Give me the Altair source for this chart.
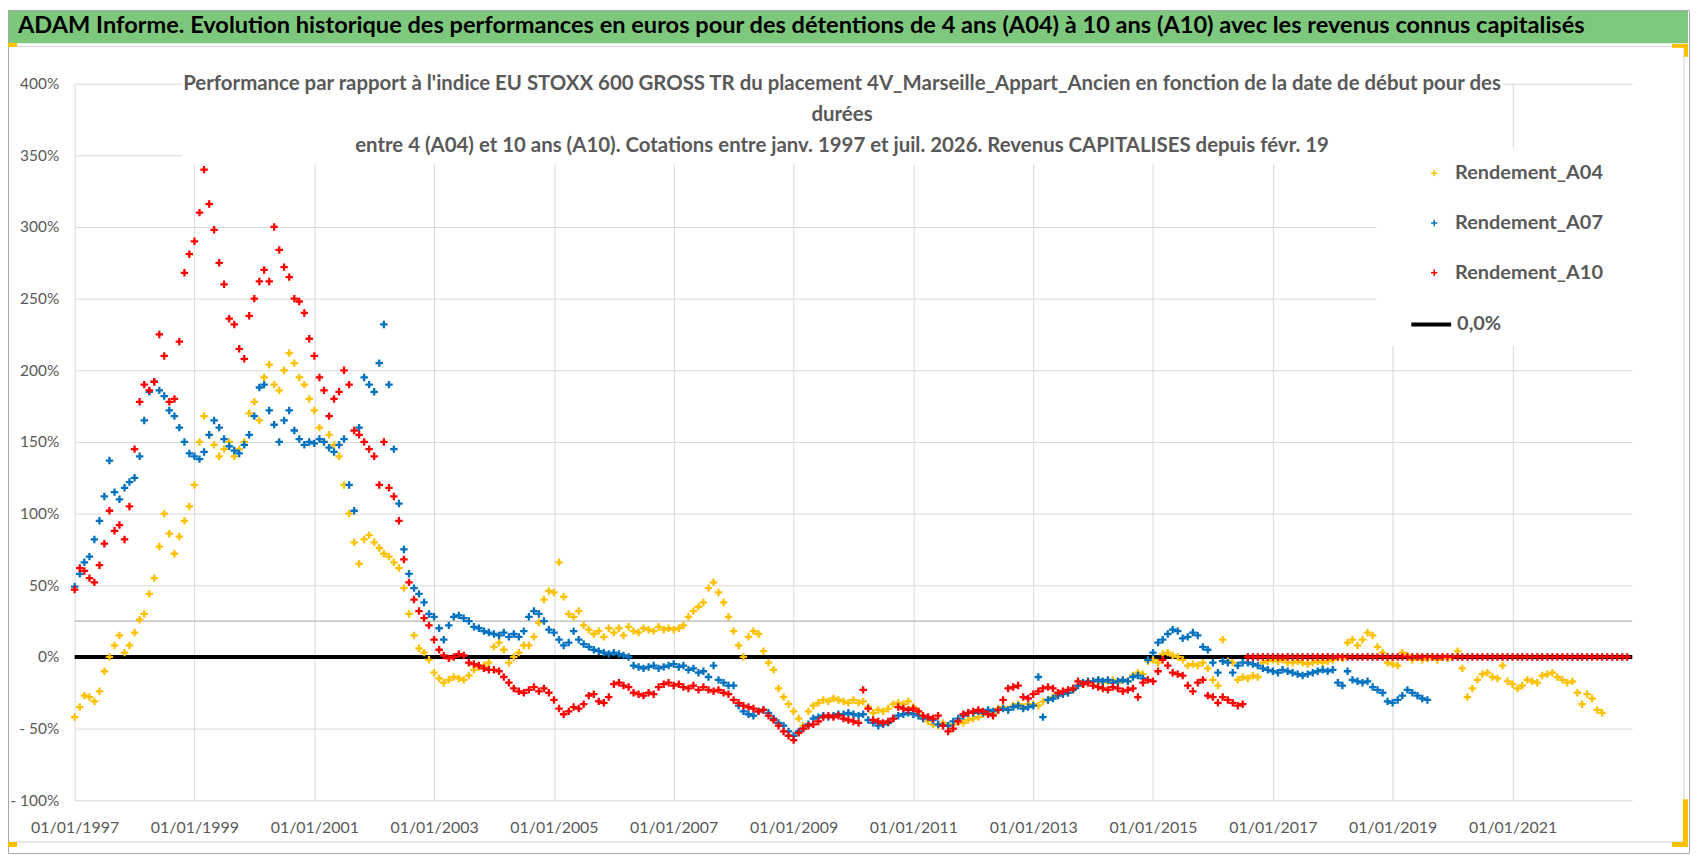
import altair as alt
import pandas as pd

FONT = "Lato, Carlito, sans-serif"
GREY_TXT = "#595959"

BANNER = ("ADAM Informe. Evolution historique des performances en euros pour des détentions "
          "de 4 ans (A04) à 10 ans (A10) avec les revenus connus capitalisés")
TITLE_LINES = [
    "Performance par rapport à l'indice EU STOXX 600 GROSS TR  du placement 4V_Marseille_Appart_Ancien en fonction de la date de début pour des",
    "durées",
    "entre 4 (A04) et 10 ans (A10). Cotations entre janv. 1997 et juil. 2026. Revenus CAPITALISES depuis févr. 19",
]

SERIES = ["Rendement_A04", "Rendement_A07", "Rendement_A10"]
COLORS = ["#FFC000", "#0070C0", "#FF0000"]
ZERO_LABEL = "0,0%"
Y_TICKS = [-100, -50, 0, 50, 100, 150, 200, 250, 300, 350, 400]
X_TICK_YEARS = [1997, 1999, 2001, 2003, 2005, 2007, 2009, 2011, 2013, 2015, 2017, 2019, 2021]
REF_LINE = [25]

# monthly values (%), one row per year, starting January 1997
A04 = [
    [-42, -35, -27, -28, -31, -24, -10, 0, 8, 15, 3, 8],
    [17, 26, 30, 44, 55, 77, 100, 86, 72, 84, 95, 105],
    [120, 150, 168, 155, 148, 140, 145, 150, 140, 145, 150, 170],
    [178, 165, 195, 204, 190, 186, 200, 212, 205, 195, 190, 180],
    [172, 160, 150, 155, 148, 140, 120, 100, 80, 65, 82, 85],
    [80, 76, 72, 70, 66, 62, 48, 30, 15, 6, 3, -2],
    [-11, -15, -18, -16, -14, -15, -16, -13, -9, -7, -6, -4],
    [7, 10, 5, -4, 0, 3, 8, 8, 14, 24, 40, 46],
    [45, 66, 42, 30, 28, 32, 22, 19, 16, 18, 14, 20],
    [17, 20, 15, 21, 18, 17, 20, 19, 18, 21, 19, 20],
    [19, 20, 22, 28, 32, 35, 38, 48, 52, 45, 38, 28],
    [18, 8, 0, 14, 18, 16, 4, -4, -9, -22, -28, -33],
    [-38, -43, -48, -38, -34, -32, -30, -31, -29, -30, -31, -32],
    [-30, -32, -31, -35, -39, -37, -38, -36, -33, -32, -33, -31],
    [-35, -38, -43, -45, -47, -48, -46, -48, -47, -45, -46, -44],
    [-43, -42, -40, -38, -40, -36, -35, -37, -34, -33, -35, -33],
    [-33, -34, -31, -30, -28, -26, -24, -25, -22, -20, -19, -18],
    [-17, -16, -18, -17, -16, -18, -16, -17, -13, -11, -12, -3],
    [-2, -4, 2, 3, 1, 0, -2, -6, -5, -6, -4, -8],
    [-16, -20, 12, -3, -4, -16, -14, -15, -13, -14, -4, -3],
    [-2, -3, -2, -4, -4, -3, -4, -5, -4, -3, -4, -3],
    [-2, 0, -1, 10, 12, 8, 12, 17, 15, 7, 3, -4],
    [-5, -6, 3, 1, -2, 0, -2, -1, 0, -2, 0, -1],
    [0, 4, -8, -28, -22, -16, -12, -11, -14, -15, -6, -17],
    [-19, -22, -20, -16, -17, -18, -13, -12, -11, -14, -16, -18],
    [-17, -25, -33, -26, -29, -37, -39],
]
A07 = [
    [49, 58, 66, 70, 82, 95, 112, 137, 115, 110, 118, 122],
    [125, 140, 165, 185, 192, 186, 182, 172, 168, 160, 150, 142],
    [140, 138, 143, 155, 165, 160, 152, 147, 144, 142, 148, 155],
    [168, 188, 190, 172, 162, 150, 165, 172, 158, 152, 148, 150],
    [149, 152, 150, 146, 143, 148, 152, 120, 102, 160, 195, 190],
    [185, 205, 232, 190, 145, 107, 75, 58, 48, 44, 38, 30],
    [28, 20, 12, 22, 28, 29, 27, 25, 21, 20, 18, 17],
    [16, 15, 17, 14, 16, 14, 18, 28, 32, 30, 25, 19],
    [17, 12, 8, 10, 18, 12, 9, 7, 5, 4, 3, 2],
    [3, 2, 1, 0, -6, -7, -8, -7, -6, -8, -7, -6],
    [-5, -7, -6, -9, -8, -11, -10, -14, -6, -16, -18, -20],
    [-20, -34, -38, -40, -41, -38, -37, -39, -43, -46, -48, -52],
    [-55, -52, -50, -47, -43, -42, -41, -42, -41, -40, -40, -39],
    [-40, -41, -40, -44, -46, -48, -47, -46, -43, -41, -40, -39],
    [-40, -41, -43, -42, -44, -47, -48, -48, -45, -43, -41, -39],
    [-39, -38, -39, -37, -38, -37, -36, -37, -35, -34, -36, -35],
    [-34, -14, -42, -30, -29, -27, -26, -25, -23, -20, -18, -17],
    [-17, -16, -17, -16, -18, -17, -16, -17, -14, -13, -15, -2],
    [3, 10, 12, 16, 19, 18, 13, 14, 17, 15, 7, 5],
    [-4, -11, -3, -4, -11, -6, -4, -4, -5, -6, -8, -9],
    [-10, -11, -9, -10, -11, -12, -13, -12, -11, -10, -9, -10],
    [-9, -18, -20, -10, -16, -17, -18, -17, -21, -23, -25, -31],
    [-32, -30, -27, -23, -25, -27, -29, -30],
]
A10 = [
    [47, 62, 60, 55, 52, 64, 79, 102, 88, 92, 82, 105],
    [145, 178, 190, 186, 192, 225, 210, 178, 180, 220, 268, 281],
    [290, 310, 340, 316, 298, 275, 260, 236, 232, 215, 208, 238],
    [250, 262, 270, 262, 300, 284, 272, 265, 250, 248, 240, 222],
    [210, 195, 186, 168, 180, 185, 200, 190, 158, 155, 150, 145],
    [140, 120, 150, 118, 112, 95, 68, 52, 40, 32, 27, 22],
    [12, 5, 1, -1, 0, 2, 1, -4, -5, -6, -8, -9],
    [-9, -10, -14, -18, -22, -24, -25, -23, -21, -24, -22, -25],
    [-30, -36, -40, -38, -35, -36, -33, -27, -26, -31, -32, -28],
    [-19, -18, -20, -21, -25, -26, -27, -25, -26, -21, -19, -18],
    [-20, -19, -21, -22, -20, -23, -21, -23, -24, -23, -25, -26],
    [-30, -32, -34, -35, -36, -38, -37, -41, -44, -48, -52, -55],
    [-58, -53, -50, -48, -47, -45, -42, -41, -42, -41, -43, -44],
    [-45, -46, -23, -36, -44, -45, -46, -45, -43, -35, -36, -37],
    [-36, -38, -41, -42, -43, -41, -48, -52, -50, -45, -40, -39],
    [-38, -37, -38, -40, -41, -37, -30, -22, -21, -20, -28, -29],
    [-26, -24, -22, -21, -22, -25, -24, -23, -22, -17, -19, -18],
    [-20, -21, -22, -23, -21, -22, -24, -23, -22, -28, -18, -16],
    [-17, -10, -2, -6, -11, -12, -13, -20, -24, -18, -16, -27],
    [-28, -32, -28, -30, -32, -34, -33, 0, 0, 0, 0, 0],
    [0, 0, 0, 0, 0, 0, 0, 0, 0, 0, 0, 0],
    [0, 0, 0, 0, 0, 0, 0, 0, 0, 0, 0, 0],
    [0, 0, 0, 0, 0, 0, 0, 0, 0, 0, 0, 0],
    [0, 0, 0, 0, 0, 0, 0, 0, 0, 0, 0, 0],
    [0, 0, 0, 0, 0, 0, 0, 0, 0, 0, 0, 0],
    [0, 0, 0, 0, 0, 0, 0, 0, 0, 0, 0, 0],
]


def frame_for(name, rows):
    vals = [v for row in rows for v in row]
    dates = pd.date_range("1997-01-01", periods=len(vals), freq="MS")
    return pd.DataFrame({"date": dates.strftime("%Y-%m-%dT00:00:00"), "value": vals, "serie": name})


points_df = pd.concat([frame_for(n, r) for n, r in zip(SERIES, [A04, A07, A10])], ignore_index=True)

CROSS = "M-1,0H1M0,-1V1"

X = alt.X(
    "date:T",
    scale=alt.Scale(domain=[alt.DateTime(year=1997, month=1, date=1),
                            alt.DateTime(year=2023, month=1, date=1)]),
    axis=alt.Axis(values=[alt.DateTime(year=y, month=1, date=1) for y in X_TICK_YEARS],
                  format="%d/%m/%Y", labelFont=FONT, labelFontSize=16, labelColor=GREY_TXT,
                  labelPadding=19, grid=True, gridColor="#d9d9d9", gridWidth=1,
                  ticks=False, domain=False, title=None, labelOverlap=False, labelFlush=False),
)
Y = alt.Y(
    "value:Q",
    scale=alt.Scale(domain=[-100, 400], nice=False, zero=False),
    axis=alt.Axis(values=Y_TICKS, labelFont=FONT, labelFontSize=15.5, labelColor=GREY_TXT,
                  labelPadding=16, grid=True, gridColor="#d9d9d9", gridWidth=1,
                  ticks=False, domain=False, title=None,
                  labelExpr="datum.value < 0 ? '- ' + (-datum.value) + '%' : datum.value + '%'"),
)

dummy = pd.DataFrame({"k": [0]})


def box(x1, x2, y1, y2, fill=None, stroke=None, sw=1.0):
    kw = {"fill": fill if fill else "transparent"}
    if stroke:
        kw["stroke"] = stroke
        kw["strokeWidth"] = sw
    return alt.Chart(dummy).mark_rect(**kw).encode(
        x=alt.value(x1), x2=alt.value(x2), y=alt.value(y1), y2=alt.value(y2))


# white areas behind the inner title and the legend
title_bg = box(108, 1435, -22, 81, fill="white")
legend_bg = box(1308, 1570, 65, 263, fill="white")

ref_rule = alt.Chart(pd.DataFrame({"value": REF_LINE})).mark_rule(
    color="#b5b5b5", strokeWidth=1.3).encode(y=Y)

LEG_COMMON = dict(title=None, labelFont=FONT, labelFontSize=20, labelFontWeight="bold",
                  labelColor=GREY_TXT, labelLimit=400, padding=0)

zero_rule = alt.Chart(pd.DataFrame({"serie": [ZERO_LABEL], "value": [0]})).mark_rule(
    strokeWidth=4).encode(
    y=Y,
    color=alt.Color("serie:N", scale=alt.Scale(domain=[ZERO_LABEL], range=["#000000"]),
                    legend=alt.Legend(orient="none", legendX=1341, legendY=220,
                                      symbolType="stroke", symbolSize=1600, symbolStrokeWidth=4,
                                      labelOffset=4, **LEG_COMMON)),
)

points = alt.Chart(points_df).mark_point(
    shape=CROSS, filled=False, size=56, strokeWidth=2.3, opacity=1).encode(
    x=X, y=Y,
    color=alt.Color("serie:N", scale=alt.Scale(domain=SERIES, range=COLORS),
                    legend=alt.Legend(orient="none", legendX=1356, legendY=80,
                                      symbolType=CROSS, symbolSize=40, symbolStrokeWidth=1.5,
                                      labelOffset=11, rowPadding=30, **LEG_COMMON)),
)

inner_title = alt.Chart(pd.DataFrame({"t": ["\n".join(TITLE_LINES)]})).mark_text(
    lineBreak="\n", lineHeight=31.5, align="center", baseline="top", font=FONT,
    fontSize=20.5, fontWeight="bold", color=GREY_TXT).encode(
    text="t:N", x=alt.value(771), y=alt.value(-10))

banner_bg = box(-67, 1621, -74, -40.5, fill="#7EC87E")
banner_txt = alt.Chart(pd.DataFrame({"t": [BANNER]})).mark_text(
    align="left", baseline="middle", font=FONT, fontSize=23.7, fontWeight="bold",
    color="#000000").encode(text="t:N", x=alt.value(-57), y=alt.value(-58))

area_border = box(-67, 1617, -37.5, 762, stroke="#d0d0d0", sw=1)
outer_border = box(-66.5, 1622.5, -73.5, 773.5, stroke="#a6a6a6", sw=1)

YEL = "#FFC000"
handles = [
    box(-67, -58, -41, -37, fill=YEL),
    box(1605, 1621, -40, -36, fill=YEL),
    box(1617, 1621, -40, -27, fill=YEL),
    box(1616, 1621, 719, 767, fill=YEL),
    box(1605, 1621, 762, 767, fill=YEL),
    box(-67, -58, 762, 767, fill=YEL),
]

chart = alt.layer(
    title_bg, legend_bg, ref_rule, zero_rule, points, inner_title,
    banner_bg, banner_txt, area_border, outer_border, *handles
).resolve_scale(color="independent").resolve_legend(color="independent").properties(
    width=1565, height=720,
    autosize=alt.AutoSizeParams(type="none"),
    padding={"left": 67, "top": 74, "right": 58, "bottom": 52},
    background="white",
).configure_view(stroke=None)

chart.save("out.html", embed_options={"renderer": "svg", "actions": False})
